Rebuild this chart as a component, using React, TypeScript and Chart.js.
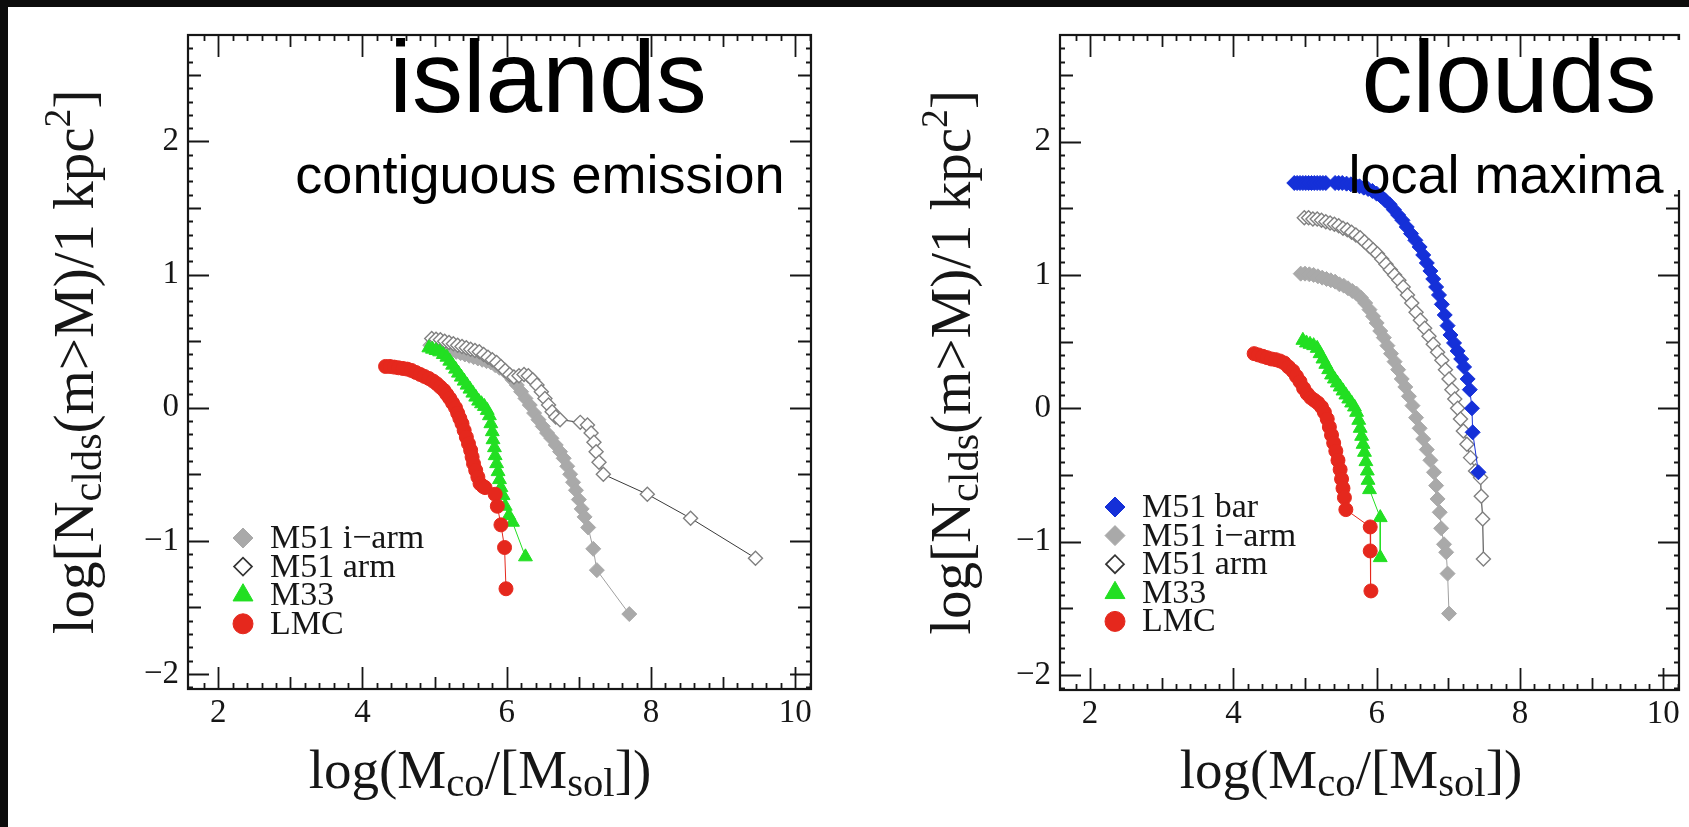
import React, { useEffect, useRef } from "react";
import { Chart, registerables } from "chart.js";
import { drawPoint } from "chart.js/helpers";

Chart.register(...registerables);

type Pt = [number, number];

// ---------- axes ----------
const X_MIN = 1.58;
const X_MAX = 10.22;
const Y_MIN = -2.113;
const Y_MAX = 2.8;
const X_TICK_LABELS = [2, 4, 6, 8, 10];
const Y_TICK_LABELS = [-2, -1, 0, 1, 2];
const X_MAJOR_TICKS = [2, 4, 6, 8, 10];
const X_MEDIUM_TICKS = [3, 5, 7, 9];
const Y_MAJOR_TICKS = [-2, -1, 0, 1, 2];
const Y_MEDIUM_TICKS = [-1.5, -0.5, 0.5, 1.5, 2.5];

// ---------- islands (left panel) ----------
const ISL_LMC: Pt[] = [
  [4.32, 0.31], [4.38, 0.31], [4.44, 0.305], [4.5, 0.3], [4.56, 0.295], [4.62, 0.29],
  [4.68, 0.28], [4.74, 0.265], [4.8, 0.25], [4.86, 0.235], [4.92, 0.22], [4.98, 0.2],
  [5.03, 0.18], [5.08, 0.155], [5.13, 0.13], [5.17, 0.1], [5.21, 0.07], [5.25, 0.035],
  [5.29, 0.0], [5.32, -0.04], [5.35, -0.08], [5.38, -0.12], [5.41, -0.17], [5.44, -0.22],
  [5.47, -0.27], [5.5, -0.32], [5.52, -0.37], [5.54, -0.42], [5.57, -0.47], [5.6, -0.52],
  [5.63, -0.57], [5.67, -0.59], [5.7, -0.6], [5.84, -0.65], [5.87, -0.74], [5.92, -0.88],
  [5.97, -1.05], [5.99, -1.36],
];
const ISL_M33: Pt[] = [
  [4.92, 0.45], [4.97, 0.44], [5.02, 0.43], [5.07, 0.42], [5.12, 0.4], [5.17, 0.38],
  [5.21, 0.35], [5.25, 0.32], [5.29, 0.29], [5.33, 0.26], [5.37, 0.23], [5.41, 0.2],
  [5.45, 0.17], [5.49, 0.14], [5.53, 0.11], [5.57, 0.08], [5.61, 0.05], [5.65, 0.03],
  [5.69, 0.01], [5.73, -0.02], [5.76, -0.06], [5.78, -0.12], [5.8, -0.18], [5.81, -0.24],
  [5.83, -0.3], [5.84, -0.36], [5.86, -0.42], [5.88, -0.48], [5.9, -0.54], [5.92, -0.6],
  [5.95, -0.66], [5.98, -0.74], [6.03, -0.81], [6.08, -0.86], [6.26, -1.12],
];
const ISL_IARM: Pt[] = [
  [4.94, 0.47], [5.0, 0.465], [5.06, 0.46], [5.12, 0.45], [5.18, 0.44], [5.24, 0.43],
  [5.3, 0.42], [5.36, 0.41], [5.42, 0.4], [5.48, 0.39], [5.54, 0.38], [5.6, 0.37],
  [5.66, 0.36], [5.72, 0.35], [5.78, 0.34], [5.84, 0.32], [5.9, 0.3], [5.96, 0.28],
  [6.02, 0.25], [6.08, 0.21], [6.14, 0.17], [6.2, 0.12], [6.26, 0.07], [6.32, 0.02],
  [6.38, -0.04], [6.44, -0.09], [6.5, -0.14], [6.56, -0.19], [6.62, -0.23], [6.68, -0.28],
  [6.74, -0.33], [6.79, -0.38], [6.84, -0.44], [6.88, -0.5], [6.92, -0.56], [6.96, -0.62],
  [7.0, -0.69], [7.04, -0.76], [7.08, -0.82], [7.13, -0.9], [7.2, -1.06], [7.25, -1.22],
  [7.7, -1.55],
];
const ISL_ARM: Pt[] = [
  [4.96, 0.52], [5.02, 0.515], [5.08, 0.51], [5.14, 0.5], [5.2, 0.49], [5.26, 0.48],
  [5.32, 0.47], [5.38, 0.46], [5.44, 0.45], [5.5, 0.44], [5.56, 0.43], [5.62, 0.42],
  [5.68, 0.4], [5.74, 0.38], [5.8, 0.36], [5.86, 0.34], [5.92, 0.31], [5.98, 0.28],
  [6.04, 0.25], [6.1, 0.23], [6.17, 0.24], [6.24, 0.25], [6.3, 0.24], [6.36, 0.21],
  [6.42, 0.17], [6.48, 0.12], [6.53, 0.07], [6.58, 0.02], [6.63, -0.03], [6.68, -0.07],
  [6.74, -0.09], [7.02, -0.11], [7.12, -0.13], [7.17, -0.19], [7.21, -0.26], [7.24, -0.33],
  [7.28, -0.41], [7.34, -0.5], [7.95, -0.65], [8.55, -0.83], [9.45, -1.13],
];

// ---------- clouds (right panel) ----------
const CLD_BAR: Pt[] = [
  [4.85, 1.69], [4.89, 1.69], [4.93, 1.69], [4.97, 1.69], [5.01, 1.69], [5.05, 1.69],
  [5.09, 1.69], [5.13, 1.69], [5.17, 1.69], [5.21, 1.69], [5.25, 1.69], [5.29, 1.69],
  [5.42, 1.69], [5.47, 1.69], [5.52, 1.69], [5.58, 1.685], [5.64, 1.68], [5.7, 1.675],
  [5.76, 1.665], [5.82, 1.655], [5.88, 1.645], [5.94, 1.63], [6.0, 1.61], [6.06, 1.59],
  [6.12, 1.56], [6.18, 1.53], [6.24, 1.49], [6.3, 1.45], [6.36, 1.41], [6.42, 1.36],
  [6.48, 1.31], [6.54, 1.26], [6.6, 1.21], [6.65, 1.15], [6.7, 1.09], [6.75, 1.03],
  [6.79, 0.97], [6.83, 0.91], [6.87, 0.85], [6.91, 0.78], [6.95, 0.7], [6.99, 0.62],
  [7.03, 0.55], [7.08, 0.49], [7.13, 0.43], [7.18, 0.37], [7.22, 0.31], [7.27, 0.22],
  [7.3, 0.14], [7.33, 0.0], [7.34, -0.18], [7.42, -0.48],
];
const CLD_IARM: Pt[] = [
  [4.94, 1.01], [5.0, 1.01], [5.06, 1.005], [5.12, 1.0], [5.18, 0.99], [5.24, 0.98],
  [5.3, 0.97], [5.36, 0.96], [5.42, 0.95], [5.48, 0.93], [5.54, 0.92], [5.6, 0.9],
  [5.66, 0.88], [5.72, 0.86], [5.78, 0.83], [5.84, 0.79], [5.9, 0.74], [5.95, 0.69],
  [6.0, 0.64], [6.05, 0.58], [6.1, 0.53], [6.15, 0.47], [6.2, 0.41], [6.25, 0.35],
  [6.3, 0.29], [6.35, 0.22], [6.4, 0.16], [6.45, 0.09], [6.5, 0.02], [6.55, -0.07],
  [6.6, -0.15], [6.65, -0.23], [6.7, -0.31], [6.75, -0.39], [6.8, -0.48], [6.83, -0.58],
  [6.85, -0.68], [6.88, -0.78], [6.9, -0.9], [6.94, -1.02], [6.97, -1.08], [6.99, -1.24],
  [7.01, -1.54],
];
const CLD_ARM: Pt[] = [
  [4.99, 1.43], [5.05, 1.43], [5.11, 1.42], [5.17, 1.42], [5.23, 1.41], [5.29, 1.4],
  [5.35, 1.39], [5.41, 1.38], [5.47, 1.37], [5.53, 1.35], [5.59, 1.34], [5.65, 1.32],
  [5.71, 1.3], [5.77, 1.28], [5.83, 1.25], [5.89, 1.22], [5.95, 1.19], [6.01, 1.16],
  [6.07, 1.12], [6.13, 1.08], [6.19, 1.04], [6.25, 1.0], [6.31, 0.96], [6.37, 0.91],
  [6.43, 0.85], [6.49, 0.79], [6.55, 0.72], [6.61, 0.66], [6.67, 0.6], [6.73, 0.54],
  [6.79, 0.48], [6.85, 0.42], [6.91, 0.36], [6.96, 0.29], [7.01, 0.22], [7.05, 0.14],
  [7.09, 0.07], [7.13, 0.0], [7.17, -0.08], [7.21, -0.17], [7.26, -0.27], [7.31, -0.37],
  [7.38, -0.47], [7.45, -0.52], [7.46, -0.66], [7.48, -0.83], [7.49, -1.13],
];
const CLD_M33: Pt[] = [
  [4.97, 0.51], [5.02, 0.49], [5.07, 0.48], [5.12, 0.47], [5.17, 0.45], [5.21, 0.41],
  [5.25, 0.37], [5.29, 0.33], [5.33, 0.29], [5.37, 0.25], [5.41, 0.22], [5.45, 0.19],
  [5.49, 0.16], [5.53, 0.13], [5.57, 0.1], [5.61, 0.07], [5.65, 0.04], [5.69, 0.01],
  [5.72, -0.03], [5.75, -0.09], [5.77, -0.15], [5.79, -0.21], [5.81, -0.27], [5.83, -0.33],
  [5.85, -0.4], [5.87, -0.47], [5.88, -0.54], [5.9, -0.61], [6.05, -0.82], [6.05, -1.12],
];
const CLD_LMC: Pt[] = [
  [4.29, 0.41], [4.35, 0.4], [4.41, 0.39], [4.47, 0.38], [4.53, 0.37], [4.59, 0.365],
  [4.65, 0.355], [4.71, 0.34], [4.77, 0.31], [4.83, 0.28], [4.88, 0.24], [4.93, 0.2],
  [4.98, 0.15], [5.03, 0.11], [5.08, 0.08], [5.13, 0.06], [5.18, 0.04], [5.23, 0.01],
  [5.27, -0.03], [5.31, -0.08], [5.34, -0.14], [5.37, -0.2], [5.4, -0.26], [5.43, -0.32],
  [5.46, -0.39], [5.49, -0.46], [5.51, -0.53], [5.53, -0.6], [5.55, -0.67], [5.57, -0.76],
  [5.91, -0.89], [5.91, -1.07], [5.92, -1.37],
];

// ---------- styles ----------
const SERIF = "'Liberation Serif', 'Times New Roman', serif";
const SANS = "'Liberation Sans', Arial, sans-serif";
const INK = "#161616";

type Style = { label: string; pointStyle: string; radius: number; fill: string; stroke: string; line: string; bw: number; legendRadius: number };
const STYLES: Record<string, Style> = {
  bar: { label: "M51 bar", pointStyle: "rectRot", radius: 7.5, fill: "#1530d8", stroke: "#1530d8", line: "#1530d8", bw: 1, legendRadius: 10 },
  iarm: { label: "M51 i\u2212arm", pointStyle: "rectRot", radius: 7.5, fill: "#a9a9a9", stroke: "#a9a9a9", line: "#a0a0a0", bw: 1, legendRadius: 10 },
  arm: { label: "M51 arm", pointStyle: "rectRot", radius: 7, fill: "#ffffff", stroke: "#808080", line: "#3a3a3a", bw: 1.4, legendRadius: 9 },
  m33: { label: "M33", pointStyle: "triangle", radius: 8, fill: "#22df22", stroke: "#22df22", line: "#22df22", bw: 1, legendRadius: 11.5 },
  lmc: { label: "LMC", pointStyle: "circle", radius: 7, fill: "#e5281d", stroke: "#e5281d", line: "#e5281d", bw: 1, legendRadius: 10 },
};

function makeDataset(key: string, pts: Pt[]) {
  const s = STYLES[key];
  return {
    label: s.label,
    data: pts.map(([x, y]) => ({ x, y })),
    showLine: true,
    borderColor: s.line,
    borderWidth: 1,
    pointStyle: s.pointStyle,
    pointRadius: s.radius,
    pointBackgroundColor: s.fill,
    pointBorderColor: s.stroke,
    pointBorderWidth: s.bw,
    tension: 0,
  };
}

type Seg = { t: string; k?: "sub" | "sup" };
const Y_TITLE: Seg[] = [
  { t: "log[N" }, { t: "clds", k: "sub" }, { t: "(m>M)/1 kpc" }, { t: "2", k: "sup" }, { t: "]" },
];
const X_TITLE: Seg[] = [
  { t: "log(M" }, { t: "co", k: "sub" }, { t: "/[M" }, { t: "sol", k: "sub" }, { t: "])" },
];

function drawRich(ctx: CanvasRenderingContext2D, segs: Seg[], size: number) {
  const parts = segs.map((s) => {
    const fs = s.k === "sub" ? size * 0.74 : s.k === "sup" ? size * 0.66 : size;
    ctx.font = `${fs}px ${SERIF}`;
    return { ...s, fs, w: ctx.measureText(s.t).width };
  });
  const total = parts.reduce((a, p) => a + p.w, 0);
  let x = -total / 2;
  ctx.textAlign = "left";
  ctx.textBaseline = "alphabetic";
  for (const p of parts) {
    ctx.font = `${p.fs}px ${SERIF}`;
    const dy = p.k === "sub" ? size * 0.14 : p.k === "sup" ? -size * 0.4 : 0;
    ctx.fillText(p.t, x, dy);
    x += p.w;
  }
}

type PanelProps = {
  left: number;
  width: number;
  area: { left: number; top: number; right: number; bottom: number };
  datasets: any[];
  legendKeys: string[];
  legendTopRow: number;
  title: string;
  subtitle: string;
  titleCx: number;
  subtitleCx: number;
  yTitleX: number;
  yTitleSize: number;
  xTitleCx: number;
  maskRightAxis: [number, number] | null;
};

const H = 827;

function Panel(p: PanelProps) {
  const ref = useRef<HTMLCanvasElement | null>(null);
  useEffect(() => {
    const canvas = ref.current!;
    const frame = {
      id: "frameTicks",
      afterDatasetsDraw(chart: any) {
        const { ctx, chartArea: a, scales } = chart;
        const xs = scales.x, ys = scales.y;
        ctx.save();
        ctx.strokeStyle = INK;
        ctx.lineWidth = 1.8;
        ctx.lineCap = "butt";
        const tickX = (v: number, len: number) => {
          const px = Math.round(xs.getPixelForValue(v)) + 0.5;
          ctx.beginPath();
          ctx.moveTo(px, a.bottom); ctx.lineTo(px, a.bottom - len);
          ctx.moveTo(px, a.top); ctx.lineTo(px, a.top + len);
          ctx.stroke();
        };
        const tickY = (v: number, len: number) => {
          const py = Math.round(ys.getPixelForValue(v)) + 0.5;
          ctx.beginPath();
          ctx.moveTo(a.left, py); ctx.lineTo(a.left + len, py);
          ctx.moveTo(a.right, py); ctx.lineTo(a.right - len, py);
          ctx.stroke();
        };
        for (let i = 9; i <= 51; i++) {
          const v = i / 5;
          if (Math.abs(v - Math.round(v)) < 1e-6) continue;
          if (v > X_MIN && v < X_MAX) tickX(v, 6);
        }
        X_MEDIUM_TICKS.forEach((v) => tickX(v, 12));
        X_MAJOR_TICKS.forEach((v) => tickX(v, 22));
        for (let i = -21; i <= 27; i++) {
          const v = i / 10;
          if (Math.abs(v * 2 - Math.round(v * 2)) < 1e-6) continue;
          tickY(v, 5);
        }
        Y_MEDIUM_TICKS.forEach((v) => tickY(v, 13));
        Y_MAJOR_TICKS.forEach((v) => tickY(v, 21));
        ctx.lineWidth = 2.2;
        ctx.strokeRect(a.left, a.top, a.right - a.left, a.bottom - a.top);
        if (p.maskRightAxis) {
          const [y0, y1] = p.maskRightAxis;
          ctx.fillStyle = "#ffffff";
          ctx.fillRect(a.right - 23, y0, 27, y1 - y0);
        }
        ctx.restore();
      },
      afterDraw(chart: any) {
        const { ctx, chartArea: a } = chart;
        ctx.save();
        ctx.fillStyle = INK;
        // y title
        ctx.save();
        ctx.translate(p.yTitleX, (a.top + a.bottom) / 2);
        ctx.rotate(-Math.PI / 2);
        drawRich(ctx, Y_TITLE, p.yTitleSize);
        ctx.restore();
        // x title
        ctx.save();
        ctx.translate(p.xTitleCx, 788);
        drawRich(ctx, X_TITLE, 55);
        ctx.restore();
        // legend
        p.legendKeys.forEach((k, i) => {
          const s = STYLES[k];
          const y = p.legendTopRow + i * 28.6;
          const x = a.left + 55;
          ctx.fillStyle = s.fill;
          ctx.strokeStyle = k === "arm" ? "#333" : s.stroke;
          ctx.lineWidth = k === "arm" ? 1.7 : 1;
          drawPoint(ctx, { pointStyle: s.pointStyle as any, rotation: 0, radius: s.legendRadius, borderWidth: k === "arm" ? 1.7 : 1 }, x, y);
          ctx.fillStyle = INK;
          ctx.font = `34px ${SERIF}`;
          ctx.textAlign = "left";
          ctx.textBaseline = "middle";
          ctx.fillText(s.label, a.left + 82, y + 1);
        });
        // panel titles
        ctx.fillStyle = "#000";
        ctx.textAlign = "center";
        ctx.textBaseline = "alphabetic";
        ctx.font = `102px ${SANS}`;
        ctx.fillText(p.title, p.titleCx, 112);
        ctx.font = `54px ${SANS}`;
        ctx.fillText(p.subtitle, p.subtitleCx, 193);
        ctx.restore();
      },
    };
    const chart = new Chart(canvas, {
      type: "scatter",
      data: { datasets: p.datasets },
      options: {
        responsive: false,
        animation: false,
        events: [],
        layout: { padding: { top: p.area.top, left: 0, bottom: 0, right: p.width - p.area.right } },
        plugins: { legend: { display: false }, tooltip: { enabled: false } },
        scales: {
          x: {
            type: "linear",
            min: X_MIN,
            max: X_MAX,
            grid: { display: false, drawTicks: false },
            border: { display: false },
            afterBuildTicks: (s: any) => { s.ticks = X_TICK_LABELS.map((v) => ({ value: v })); },
            afterFit: (s: any) => { s.height = H - p.area.bottom; },
            ticks: {
              autoSkip: false,
              maxRotation: 0,
              padding: 5,
              color: INK,
              font: { family: SERIF, size: 33 },
              callback: (v: any) => String(v),
            },
          },
          y: {
            type: "linear",
            min: Y_MIN,
            max: Y_MAX,
            grid: { display: false, drawTicks: false },
            border: { display: false },
            afterBuildTicks: (s: any) => { s.ticks = Y_TICK_LABELS.map((v) => ({ value: v })); },
            afterFit: (s: any) => { s.width = p.area.left; },
            ticks: {
              autoSkip: false,
              padding: 9,
              color: INK,
              font: { family: SERIF, size: 33 },
              callback: (v: any) => (v < 0 ? "\u2212" + Math.abs(v) : String(v)),
            },
          },
        },
      } as any,
      plugins: [frame],
    });
    return () => chart.destroy();
  }, []);
  return (
    <canvas
      ref={ref}
      width={p.width}
      height={H}
      style={{ position: "absolute", left: p.left, top: 0, width: p.width, height: H }}
    />
  );
}

export default function App() {
  useEffect(() => {
    document.documentElement.style.overflow = "hidden";
    document.body.style.overflow = "hidden";
    document.body.style.background = "#ffffff";
  }, []);
  const leftSets = [
    makeDataset("lmc", ISL_LMC),
    makeDataset("m33", ISL_M33),
    makeDataset("arm", ISL_ARM),
    makeDataset("iarm", ISL_IARM),
  ];
  const rightSets = [
    makeDataset("lmc", CLD_LMC),
    makeDataset("m33", CLD_M33),
    makeDataset("bar", CLD_BAR),
    makeDataset("arm", CLD_ARM),
    makeDataset("iarm", CLD_IARM),
  ];
  return (
    <div style={{ position: "fixed", left: 0, top: 0, width: 1689, height: 827, background: "#ffffff", overflow: "hidden" }}>
      <div style={{ position: "absolute", left: 0, top: 0, width: 1689, height: 7, background: "#0c0c0c" }} />
      <div style={{ position: "absolute", left: 0, top: 0, width: 8, height: 827, background: "#0c0c0c" }} />
      <Panel
        left={0}
        width={845}
        area={{ left: 188, top: 35, right: 811, bottom: 689 }}
        datasets={leftSets}
        legendKeys={["iarm", "arm", "m33", "lmc"]}
        legendTopRow={538}
        title="islands"
        subtitle="contiguous emission"
        titleCx={548}
        subtitleCx={540}
        yTitleX={93}
        yTitleSize={57}
        xTitleCx={480}
        maskRightAxis={null}
      />
      <Panel
        left={845}
        width={844}
        area={{ left: 215, top: 35, right: 834, bottom: 690 }}
        datasets={rightSets}
        legendKeys={["bar", "iarm", "arm", "m33", "lmc"]}
        legendTopRow={507}
        title="clouds"
        subtitle="local maxima"
        titleCx={664}
        subtitleCx={661}
        yTitleX={125}
        yTitleSize={57}
        xTitleCx={506}
        maskRightAxis={[40, 190]}
      />
    </div>
  );
}
